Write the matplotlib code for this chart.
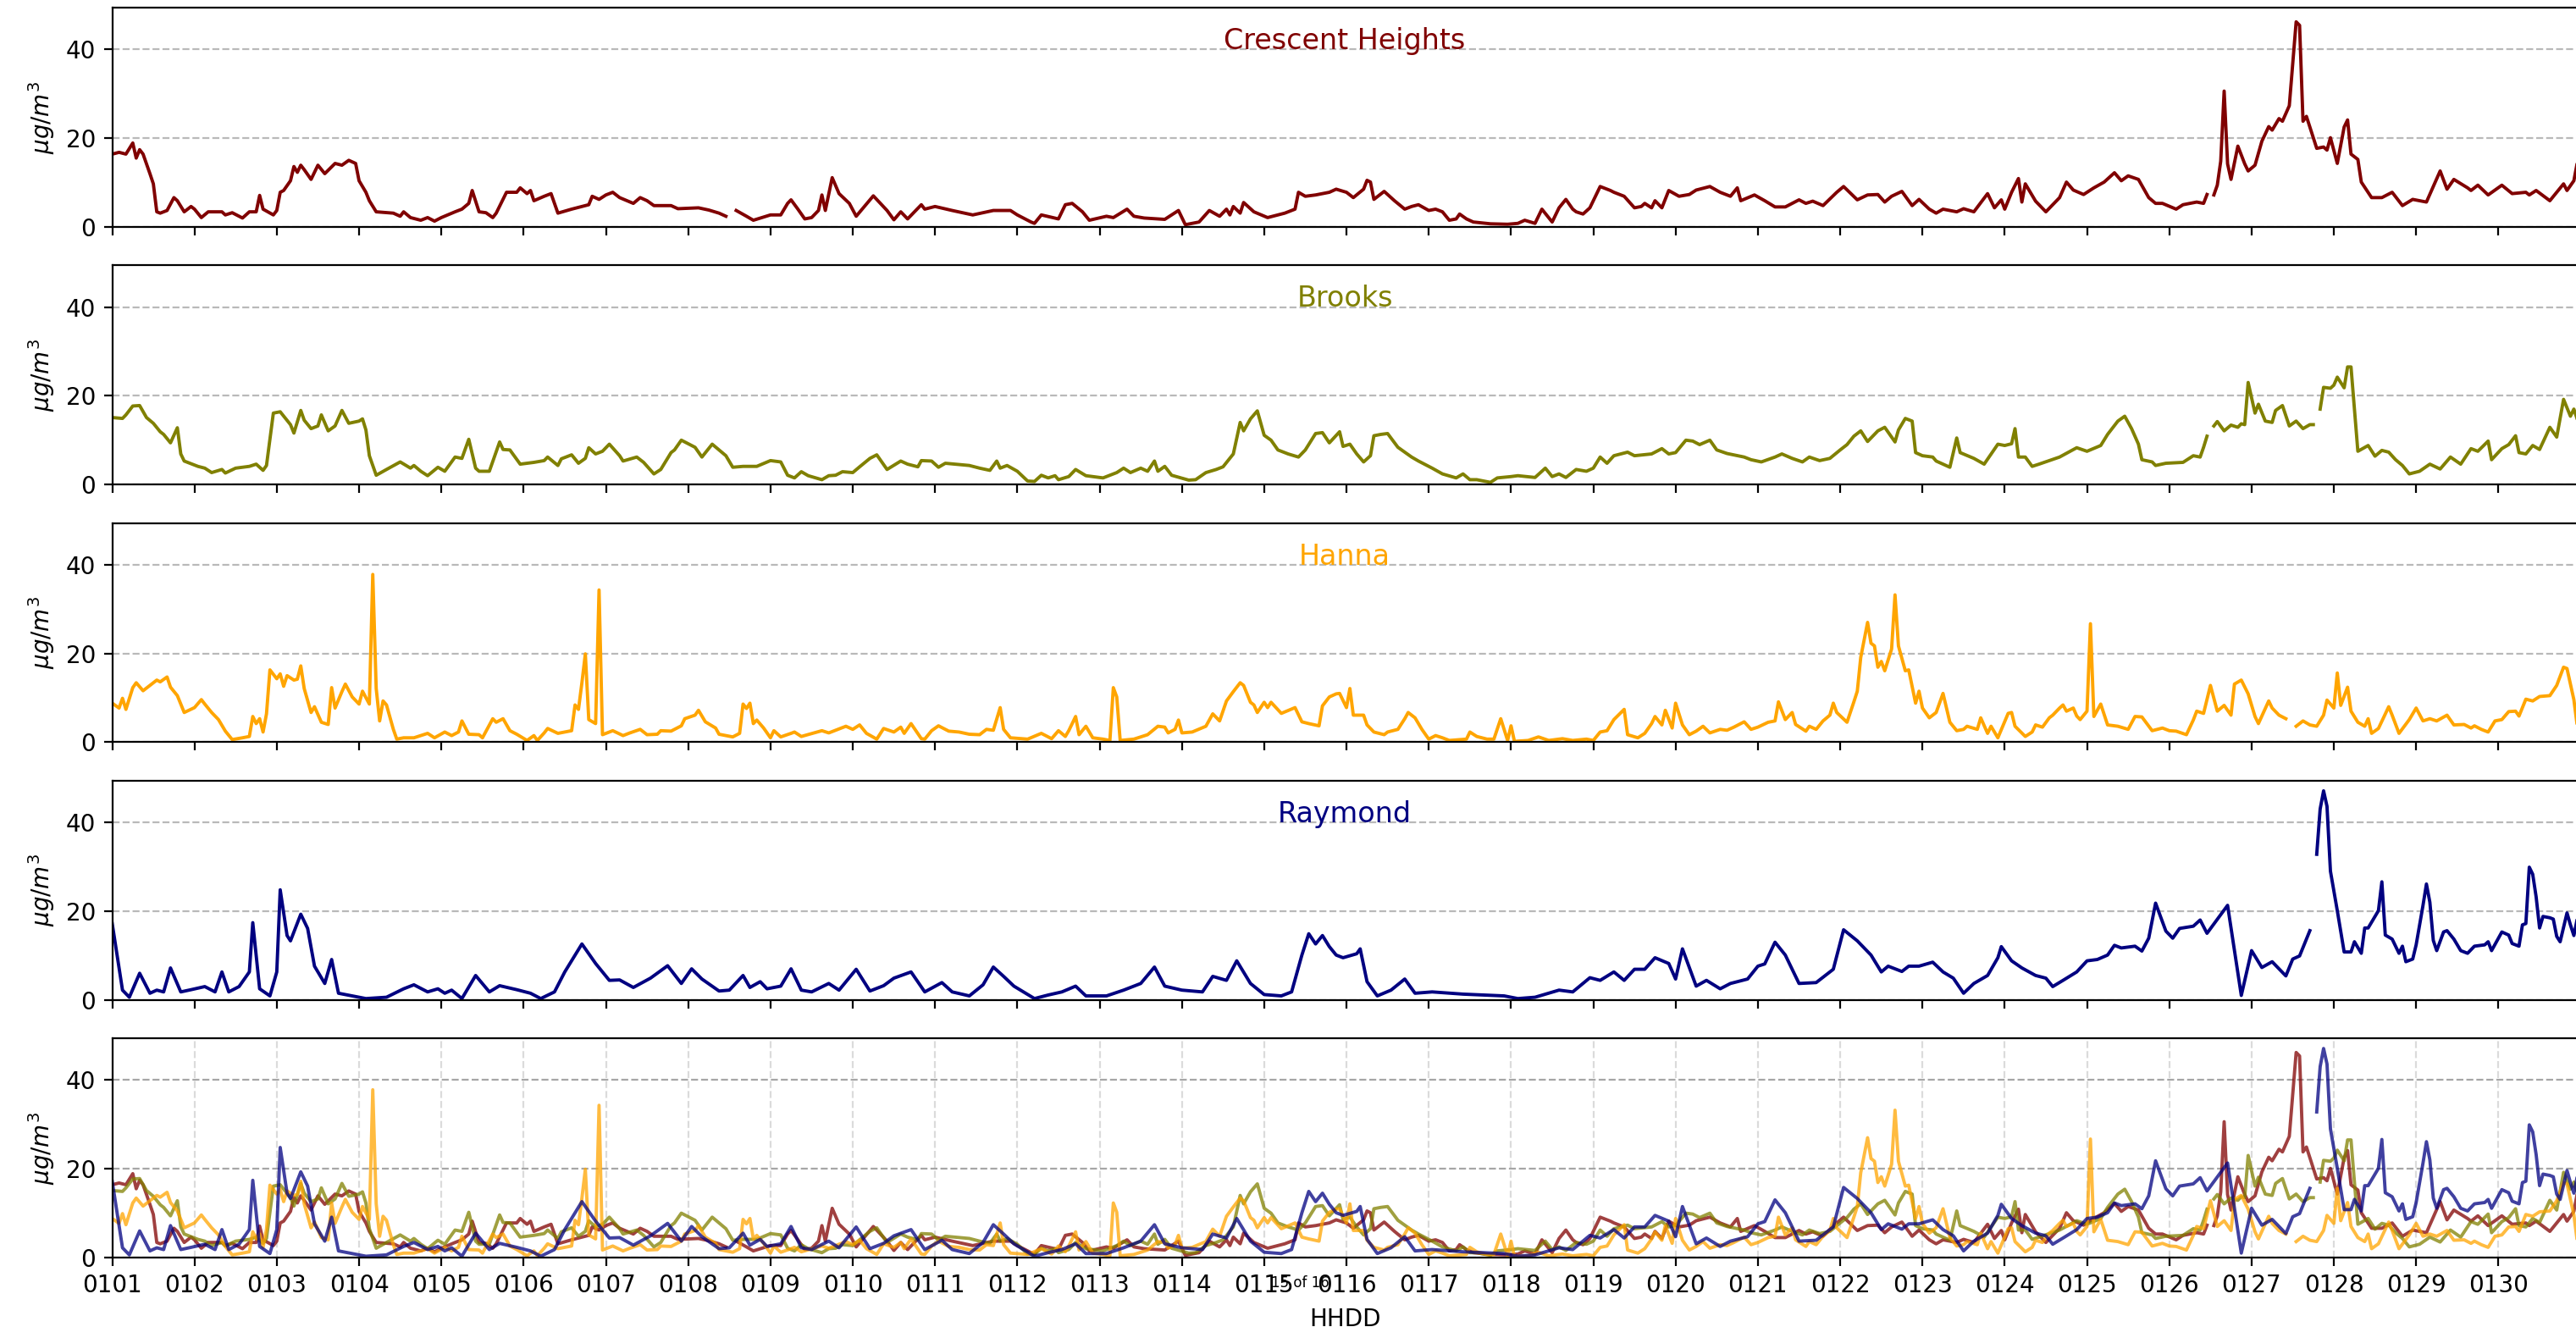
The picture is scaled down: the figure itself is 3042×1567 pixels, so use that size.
import numpy as np
import matplotlib
matplotlib.use("Agg")
import matplotlib.pyplot as plt

nan = np.nan

# (hour since 0101 00h, PM2.5); nan marks a data gap
crescent = [
    (0, 16.4), (2, 16.8), (4, 16.4), (6, 18.9), (7, 15.5), (8, 17.4), (9, 16.4), (11, 12.0), (12, 9.7),
    (13, 3.4), (14, 3.1), (16, 3.7), (18, 6.6), (19, 5.9), (21, 3.4), (23, 4.6), (24, 4.0), (26, 2.1),
    (28, 3.4), (32, 3.4), (33, 2.7), (35, 3.2), (38, 2.0), (40, 3.4), (42, 3.4), (43, 7.1), (44, 4.0),
    (47, 2.7), (48, 3.7), (49, 7.8), (50, 8.2), (52, 10.4), (53, 13.6), (54, 12.3), (55, 13.9), (56, 12.9),
    (58, 10.7), (60, 13.9), (62, 12.0), (65, 14.3), (67, 13.9), (69, 15.0), (71, 14.3), (72, 10.4), (74, 7.8),
    (75, 5.9), (77, 3.4), (82, 3.1), (84, 2.4), (85, 3.4), (87, 2.1), (90, 1.5), (92, 2.1), (94, 1.3),
    (96, 2.1), (100, 3.4), (102, 4.0), (104, 5.3), (105, 8.2), (107, 3.4), (109, 3.2), (111, 2.1), (112, 3.1),
    (115, 7.8), (118, 7.8), (119, 8.8), (121, 7.5), (122, 8.2), (123, 5.9), (126, 6.9), (128, 7.5), (130, 3.1),
    (134, 4.0), (139, 5.0), (140, 6.9), (142, 6.2), (144, 7.2), (146, 7.8), (148, 6.6), (152, 5.3), (154, 6.6),
    (156, 5.9), (158, 4.8), (163, 4.8), (165, 4.1), (171, 4.3), (174, 3.8), (177, 3.1), (179, 2.4), (181, nan),
    (182, 3.7), (185, 2.4), (187, 1.5), (192, 2.7), (195, 2.7), (197, 5.3), (198, 6.1), (200, 4.0), (202, 1.8),
    (204, 2.1), (206, 3.7), (207, 7.2), (208, 3.7), (210, 11.1), (212, 7.5), (215, 5.3), (217, 2.4), (222, 7.0),
    (226, 3.7), (228, 1.6), (230, 3.4), (232, 1.8), (236, 5.0), (237, 4.0), (240, 4.6), (245, 3.7), (251, 2.7),
    (257, 3.7), (262, 3.7), (264, 2.7), (268, 1.1), (269, 0.8), (271, 2.7), (276, 1.8), (278, 5.0), (280, 5.3),
    (283, 3.4), (285, 1.5), (290, 2.4), (292, 2.1), (296, 4.0), (298, 2.4), (301, 2.0), (307, 1.7), (311, 3.7),
    (313, 0.5), (317, 1.1), (320, 3.7), (323, 2.4), (325, 4.0), (326, 2.7), (327, 4.6), (329, 3.1), (330, 5.5),
    (333, 3.4), (337, 2.1), (342, 3.1), (345, 4.0), (346, 7.8), (348, 6.9), (351, 7.2), (355, 7.8), (357, 8.5),
    (360, 7.8), (362, 6.6), (365, 8.5), (366, 10.5), (367, 10.1), (368, 6.2), (371, 8.0), (374, 5.9), (377, 4.0),
    (379, 4.6), (381, 5.0), (384, 3.7), (386, 4.0), (388, 3.4), (390, 1.5), (392, 1.8), (393, 2.9), (395, 1.8),
    (397, 1.1), (402, 0.7), (407, 0.6), (410, 0.8), (412, 1.5), (415, 0.8), (417, 4.0), (420, 1.1), (422, 4.3),
    (424, 6.2), (426, 4.0), (427, 3.4), (429, 2.9), (431, 4.3), (434, 9.1), (437, 8.2), (438, 7.8), (441, 6.9),
    (444, 4.3), (446, 4.6), (447, 5.3), (449, 4.3), (450, 5.9), (452, 4.3), (454, 8.2), (457, 6.9), (460, 7.3),
    (462, 8.3), (466, 9.1), (469, 7.8), (472, 6.9), (474, 8.8), (475, 5.9), (479, 7.2), (482, 5.9), (485, 4.5),
    (488, 4.5), (492, 6.1), (494, 5.3), (496, 5.8), (499, 4.8), (503, 7.8), (505, 9.1), (509, 6.1), (512, 7.2),
    (515, 7.3), (517, 5.6), (519, 6.9), (522, 8.0), (525, 4.8), (527, 6.2), (530, 4.0), (532, 3.1), (534, 4.0),
    (538, 3.4), (540, 4.1), (543, 3.4), (547, 7.5), (549, 4.3), (551, 6.1), (552, 4.0), (554, 7.8), (556, 10.9),
    (557, 5.6), (558, 9.7), (561, 5.8), (564, 3.4), (568, 6.6), (570, 10.1), (572, 8.3), (575, 7.3), (578, 8.8),
    (581, 10.1), (584, 12.2), (586, 10.4), (588, 11.5), (591, 10.7), (594, 6.6), (596, 5.3), (598, 5.3),
    (602, 4.0), (604, 5.0), (608, 5.6), (610, 5.3), (611, 7.3), (612, nan), (613, 7.2), (614, 9.4), (615, 14.8),
    (616, 30.6), (617, 14.2), (618, 10.7), (620, 18.2), (622, 14.2), (623, 12.6), (625, 13.9), (627, 19.3),
    (629, 22.6), (630, 21.8), (632, 24.4), (633, 23.8), (635, 27.3), (637, 46.2), (638, 45.4), (639, 23.8),
    (640, 24.9), (643, 17.7), (645, 18.0), (646, 17.3), (647, 20.1), (649, 14.3), (651, 22.5), (652, 24.1),
    (653, 16.4), (655, 15.2), (656, 10.1), (659, 6.6), (662, 6.6), (665, 7.8), (668, 4.8), (671, 6.2),
    (675, 5.6), (679, 12.6), (681, 8.5), (683, 10.7), (687, 8.8), (688, 8.2), (690, 9.4), (693, 7.2), (697, 9.4),
    (700, 7.5), (704, 7.8), (705, 7.2), (707, 8.2), (711, 5.9), (715, 9.7), (716, 8.2), (718, 10.4), (719, 14.5),
]

brooks = [
    (0, 15.1), (3, 14.9), (4, 15.7), (6, 17.7), (8, 17.8), (10, 15.1), (12, 13.8), (14, 11.9), (15, 11.3),
    (17, 9.4), (19, 12.8), (20, 6.9), (21, 5.3), (25, 4.1), (27, 3.7), (29, 2.7), (32, 3.4), (33, 2.6),
    (36, 3.7), (40, 4.1), (42, 4.6), (44, 3.2), (45, 4.3), (47, 16.1), (49, 16.4), (52, 13.5), (53, 11.6),
    (55, 16.7), (56, 14.5), (58, 12.6), (60, 13.2), (61, 15.7), (63, 12.1), (65, 13.2), (67, 16.7), (69, 13.8),
    (72, 14.3), (73, 14.8), (74, 12.3), (75, 6.5), (77, 2.1), (80, 3.4), (84, 5.1), (87, 3.7), (88, 4.3),
    (90, 3.0), (92, 2.0), (95, 3.9), (97, 3.0), (100, 6.2), (102, 5.9), (104, 10.2), (106, 3.7), (107, 3.0),
    (110, 3.0), (113, 9.6), (114, 7.9), (116, 7.8), (119, 4.6), (123, 5.0), (126, 5.4), (127, 6.2), (130, 4.3),
    (131, 5.8), (134, 6.7), (136, 4.8), (138, 5.9), (139, 8.3), (141, 6.9), (143, 7.5), (145, 9.1), (148, 6.5),
    (149, 5.3), (153, 6.2), (155, 5.0), (158, 2.4), (160, 3.4), (163, 7.2), (164, 7.8), (166, 10.0), (170, 8.4),
    (172, 6.2), (175, 9.1), (179, 6.5), (181, 3.9), (184, 4.1), (188, 4.1), (192, 5.4), (195, 5.1), (197, 2.1),
    (199, 1.5), (201, 2.9), (203, 2.0), (207, 1.1), (209, 2.0), (211, 2.1), (213, 2.9), (216, 2.7), (218, 4.0),
    (221, 5.9), (223, 6.7), (226, 3.4), (230, 5.3), (232, 4.6), (235, 4.0), (236, 5.4), (239, 5.3), (241, 3.9),
    (243, 4.8), (250, 4.3), (253, 3.7), (256, 3.2), (258, 5.3), (259, 3.7), (261, 4.3), (264, 3.0), (267, 0.8),
    (269, 0.7), (271, 2.1), (273, 1.5), (275, 2.0), (276, 1.1), (279, 1.8), (281, 3.4), (284, 2.0), (289, 1.5),
    (293, 2.7), (295, 3.7), (297, 2.7), (300, 3.7), (302, 3.0), (304, 5.3), (305, 3.0), (307, 4.1), (309, 2.1),
    (314, 1.0), (316, 1.1), (319, 2.7), (322, 3.4), (324, 4.0), (327, 6.9), (329, 14.0), (330, 12.1),
    (332, 14.8), (334, 16.6), (336, 11.1), (338, 10.0), (340, 7.8), (343, 6.9), (346, 6.2), (348, 7.8),
    (351, 11.5), (353, 11.7), (355, 9.4), (358, 11.9), (359, 8.6), (361, 9.1), (363, 6.9), (365, 5.1),
    (367, 6.5), (368, 11.0), (370, 11.3), (372, 11.5), (375, 8.4), (379, 6.2), (381, 5.3), (385, 3.7),
    (388, 2.4), (392, 1.5), (394, 2.4), (396, 1.1), (398, 1.1), (402, 0.5), (404, 1.5), (408, 1.8), (410, 2.0),
    (415, 1.6), (418, 3.7), (420, 1.8), (422, 2.4), (424, 1.6), (427, 3.4), (430, 3.0), (432, 3.7), (434, 6.2),
    (436, 4.8), (438, 6.5), (442, 7.3), (444, 6.5), (449, 6.9), (452, 8.1), (454, 6.9), (456, 7.2), (459, 10.0),
    (461, 9.8), (463, 9.0), (466, 10.0), (468, 7.8), (471, 7.0), (476, 6.2), (478, 5.6), (481, 5.1), (485, 6.2),
    (487, 6.9), (490, 5.9), (493, 5.1), (495, 6.2), (498, 5.4), (501, 5.9), (504, 7.8), (506, 9.0), (508, 10.9),
    (510, 12.1), (512, 9.7), (515, 12.1), (517, 12.9), (520, 9.6), (521, 12.3), (523, 14.9), (525, 14.3),
    (526, 7.2), (528, 6.5), (531, 6.2), (532, 5.3), (536, 3.9), (538, 10.5), (539, 7.2), (543, 5.9), (546, 4.6),
    (550, 9.1), (552, 8.8), (554, 9.2), (555, 12.6), (556, 6.2), (558, 6.2), (560, 4.1), (562, 4.6), (568, 6.2),
    (573, 8.3), (576, 7.5), (580, 8.8), (582, 11.3), (585, 14.3), (587, 15.4), (589, 12.6), (591, 9.1),
    (592, 5.6), (595, 5.1), (596, 4.3), (599, 4.8), (604, 5.0), (607, 6.5), (609, 6.2), (610, 8.4), (611, 10.9),
    (612, nan), (613, 13.2), (614, 14.2), (616, 12.1), (618, 13.4), (620, 12.9), (621, 13.7), (622, 13.5),
    (623, 23.0), (625, 16.1), (626, 18.1), (628, 14.3), (630, 14.0), (631, 16.7), (633, 17.8), (635, 13.2),
    (637, 14.3), (639, 12.6), (641, 13.5), (642, 13.5), (643, nan), (644, 17.0), (645, 21.9), (647, 21.7),
    (648, 22.4), (649, 24.2), (651, 21.8), (652, 26.5), (653, 26.5), (655, 7.5), (658, 8.8), (660, 6.4),
    (662, 7.7), (664, 7.3), (666, 5.6), (668, 4.3), (670, 2.4), (673, 3.0), (676, 4.6), (679, 3.5), (682, 6.2),
    (685, 4.6), (688, 8.1), (690, 7.5), (693, 9.8), (694, 5.6), (697, 8.1), (699, 9.0), (701, 11.0), (702, 7.2),
    (704, 6.9), (706, 8.8), (708, 7.9), (711, 12.9), (713, 10.7), (715, 19.2), (717, 15.4), (718, 17.0),
    (719, 14.7),
]

hanna = [
    (0, 8.8), (2, 7.7), (3, 9.9), (4, 7.4), (6, 12.3), (7, 13.4), (9, 11.6), (11, 12.8), (13, 14.0), (14, 13.6),
    (16, 14.7), (17, 12.4), (19, 10.5), (21, 6.7), (24, 7.8), (26, 9.6), (27, 8.6), (29, 6.7), (31, 5.1),
    (33, 2.5), (35, 0.6), (38, 1.0), (40, 1.3), (41, 5.8), (42, 4.2), (43, 5.3), (44, 2.3), (45, 6.4),
    (46, 16.3), (48, 14.3), (49, 15.4), (50, 12.6), (51, 15.0), (53, 14.0), (54, 14.2), (55, 17.2), (56, 12.1),
    (58, 6.7), (59, 8.0), (61, 4.5), (63, 4.0), (64, 12.3), (65, 7.7), (67, 11.4), (68, 13.1), (70, 10.2),
    (72, 8.6), (73, 11.5), (75, 8.6), (76, 37.8), (77, 12.1), (78, 4.8), (79, 9.3), (80, 8.4), (82, 2.9),
    (83, 0.7), (85, 1.0), (88, 1.0), (92, 2.0), (94, 1.0), (97, 2.3), (99, 1.5), (101, 2.3), (102, 4.8),
    (104, 1.8), (107, 1.7), (108, 1.0), (111, 5.3), (112, 4.5), (114, 5.3), (116, 2.6), (118, 1.8), (121, 0.4),
    (123, 1.5), (124, 0.4), (126, 2.1), (127, 3.1), (130, 2.0), (134, 2.6), (135, 8.4), (136, 7.4), (137, 13.4),
    (138, 19.9), (139, 5.1), (141, 4.2), (142, 34.3), (143, 1.7), (146, 2.6), (149, 1.5), (151, 2.1),
    (154, 2.9), (156, 1.7), (159, 1.8), (160, 2.6), (163, 2.5), (166, 3.7), (167, 5.3), (170, 6.1), (171, 7.2),
    (173, 4.6), (176, 3.2), (177, 1.8), (181, 1.2), (183, 2.0), (184, 8.6), (185, 7.6), (186, 8.8), (187, 4.2),
    (188, 5.0), (190, 3.2), (192, 1.0), (193, 2.6), (195, 1.2), (198, 2.0), (199, 2.3), (201, 1.3), (207, 2.6),
    (209, 2.1), (214, 3.6), (216, 2.9), (218, 3.9), (220, 2.0), (223, 0.7), (225, 3.1), (228, 2.3), (230, 3.4),
    (231, 2.0), (233, 4.2), (236, 0.8), (237, 0.7), (239, 2.6), (241, 3.7), (244, 2.5), (247, 2.3), (250, 1.8),
    (253, 1.7), (255, 2.9), (257, 2.7), (259, 7.8), (260, 2.9), (262, 1.0), (267, 0.7), (271, 2.0), (274, 0.8),
    (276, 2.6), (278, 1.3), (279, 2.6), (281, 5.8), (282, 1.7), (284, 3.6), (286, 1.0), (289, 0.7), (291, 0.4),
    (292, 12.3), (293, 10.2), (294, 0.4), (298, 0.7), (302, 1.7), (305, 3.6), (307, 3.4), (308, 2.1),
    (310, 2.9), (311, 5.0), (312, 2.1), (315, 2.3), (319, 3.6), (321, 6.4), (323, 4.8), (325, 9.3), (327, 11.4),
    (329, 13.4), (330, 12.8), (332, 9.0), (333, 8.4), (334, 6.7), (336, 9.0), (337, 7.8), (338, 9.0),
    (341, 6.5), (345, 7.8), (347, 4.6), (349, 4.2), (352, 3.7), (353, 8.2), (355, 10.2), (357, 10.9),
    (358, 11.0), (360, 7.8), (361, 12.1), (362, 6.1), (365, 6.1), (366, 3.9), (368, 2.3), (371, 1.7),
    (372, 2.3), (375, 2.9), (377, 5.3), (378, 6.7), (380, 5.5), (382, 2.9), (384, 0.7), (386, 1.5), (388, 1.0),
    (390, 0.4), (395, 0.7), (396, 2.3), (398, 1.3), (401, 0.7), (403, 0.7), (405, 5.3), (407, 0.4), (408, 3.7),
    (409, 0.2), (413, 0.4), (416, 1.2), (419, 0.4), (423, 0.8), (426, 0.4), (430, 0.7), (432, 0.4), (434, 2.3),
    (436, 2.6), (438, 5.1), (441, 7.4), (442, 1.7), (445, 1.0), (447, 2.0), (449, 4.2), (450, 5.8), (452, 3.9),
    (453, 7.2), (455, 3.2), (456, 8.8), (458, 3.9), (460, 1.7), (462, 2.5), (464, 3.6), (466, 2.1), (469, 2.9),
    (471, 2.7), (473, 3.4), (476, 4.6), (478, 2.9), (480, 3.4), (483, 4.5), (485, 4.8), (486, 9.1), (488, 5.1),
    (490, 6.7), (491, 4.0), (494, 2.5), (495, 3.6), (497, 2.9), (499, 4.8), (501, 6.1), (502, 8.8), (503, 6.7),
    (506, 4.5), (508, 9.1), (509, 11.5), (510, 19.1), (512, 27.0), (513, 22.3), (514, 21.7), (515, 16.9),
    (516, 18.2), (517, 16.1), (519, 21.0), (520, 33.2), (521, 21.7), (523, 16.1), (524, 16.3), (526, 8.8),
    (527, 11.5), (528, 7.7), (530, 5.5), (532, 6.7), (534, 11.0), (536, 4.5), (538, 2.6), (540, 2.9),
    (541, 3.6), (544, 2.9), (545, 5.5), (547, 2.0), (548, 3.6), (550, 1.0), (553, 6.5), (554, 6.7), (555, 3.6),
    (558, 1.3), (560, 2.3), (561, 3.9), (563, 3.4), (565, 5.5), (566, 6.1), (568, 7.7), (569, 8.4), (570, 7.0),
    (572, 7.7), (573, 5.9), (574, 5.1), (576, 7.0), (577, 26.7), (578, 5.8), (580, 8.6), (582, 3.9), (585, 3.6),
    (588, 2.9), (590, 5.8), (592, 5.7), (595, 2.6), (598, 3.2), (600, 2.6), (602, 2.5), (605, 1.7), (607, 5.0),
    (608, 7.0), (610, 6.5), (612, 12.8), (614, 7.0), (616, 8.3), (618, 6.1), (619, 13.1), (621, 14.0),
    (623, 10.9), (625, 5.8), (626, 4.2), (629, 9.3), (630, 7.7), (632, 6.1), (634, 5.3), (635, nan), (637, 3.6),
    (639, 4.8), (641, 3.9), (643, 3.6), (645, 6.1), (646, 9.5), (648, 7.7), (649, 15.6), (650, 8.3), (652, 12.4),
    (653, 7.0), (655, 4.5), (657, 3.6), (658, 5.3), (659, 2.0), (661, 3.1), (664, 8.0), (665, 6.1), (667, 2.0),
    (670, 5.1), (672, 7.7), (674, 4.8), (676, 5.3), (678, 4.8), (681, 6.1), (683, 3.9), (686, 4.0), (688, 3.2),
    (689, 3.7), (691, 2.9), (693, 2.3), (695, 4.8), (697, 5.1), (699, 6.9), (701, 7.0), (702, 5.9), (704, 9.7),
    (706, 9.3), (708, 10.3), (711, 10.5), (713, 12.8), (715, 16.9), (716, 16.6), (718, 9.6), (719, 3.6),
]

raymond = [
    (0, 17.2), (3, 2.2), (5, 0.6), (8, 6.0), (11, 1.5), (13, 2.2), (15, 1.8), (17, 7.2), (20, 1.8), (23, 2.3),
    (27, 3.0), (30, 1.8), (32, 6.3), (34, 1.8), (37, 3.0), (40, 6.3), (41, 17.4), (43, 2.5), (46, 0.9),
    (48, 6.3), (49, 24.8), (51, 14.5), (52, 13.3), (55, 19.3), (57, 16.1), (59, 7.6), (62, 3.7), (64, 9.1),
    (66, 1.5), (70, 0.9), (74, 0.3), (80, 0.6), (85, 2.5), (88, 3.4), (92, 1.8), (95, 2.5), (97, 1.5), (99, 2.2),
    (102, 0.3), (106, 5.5), (110, 1.8), (113, 3.2), (118, 2.3), (122, 1.5), (125, 0.3), (129, 1.8), (132, 6.3),
    (137, 12.6), (141, 8.2), (145, 4.4), (148, 4.5), (152, 2.8), (157, 4.9), (162, 7.7), (166, 3.7), (169, 7.0),
    (172, 4.7), (177, 2.0), (180, 2.2), (184, 5.5), (186, 2.8), (189, 4.1), (191, 2.5), (195, 3.1), (198, 7.0),
    (201, 2.2), (204, 1.8), (209, 3.7), (212, 2.2), (217, 6.9), (221, 2.0), (225, 3.2), (228, 4.9), (233, 6.3),
    (237, 1.8), (242, 3.9), (245, 1.8), (250, 0.9), (254, 3.4), (257, 7.4), (260, 5.3), (263, 3.1), (269, 0.3),
    (273, 1.1), (277, 1.8), (281, 3.1), (284, 0.9), (290, 0.9), (295, 2.2), (300, 3.7), (304, 7.4), (307, 3.1),
    (312, 2.2), (318, 1.8), (321, 5.3), (325, 4.4), (328, 8.8), (332, 3.7), (336, 1.2), (341, 0.9), (344, 1.8),
    (347, 10.1), (349, 14.9), (351, 12.6), (353, 14.5), (355, 12.0), (357, 10.1), (359, 9.5), (363, 10.4),
    (364, 11.5), (366, 4.1), (369, 0.9), (373, 2.2), (377, 4.7), (380, 1.5), (385, 1.8), (394, 1.3), (406, 0.9),
    (410, 0.3), (415, 0.6), (422, 2.2), (426, 1.8), (431, 5.0), (434, 4.4), (438, 6.3), (441, 4.4), (444, 6.9),
    (447, 6.9), (450, 9.5), (454, 8.2), (456, 4.7), (458, 11.5), (462, 3.1), (465, 4.4), (469, 2.5), (472, 3.7),
    (477, 4.7), (480, 7.6), (482, 8.1), (485, 13.0), (488, 10.1), (492, 3.7), (497, 3.9), (502, 6.9),
    (505, 15.8), (509, 13.3), (513, 10.1), (516, 6.3), (518, 7.6), (522, 6.4), (524, 7.6), (527, 7.6),
    (531, 8.5), (534, 6.3), (537, 4.9), (540, 1.5), (543, 3.7), (547, 5.5), (550, 9.5), (551, 12.0), (554, 8.8),
    (557, 7.2), (561, 5.5), (564, 4.9), (566, 3.0), (569, 4.4), (573, 6.3), (576, 8.8), (579, 9.1), (582, 10.1),
    (584, 12.3), (586, 11.7), (590, 12.1), (592, 11.0), (594, 13.9), (596, 21.8), (599, 15.5), (601, 13.9),
    (603, 16.1), (607, 16.6), (609, 18.0), (611, 15.0), (617, 21.3), (621, 1.0), (624, 11.1), (627, 7.3),
    (630, 8.6), (634, 5.4), (636, 9.2), (638, 9.9), (641, 15.6), (642, nan), (643, 32.8), (644, 43.0),
    (645, 47.1), (646, 43.6), (647, 29.0), (649, 20.1), (651, 10.8), (653, 10.8), (654, 13.1), (656, 10.5),
    (657, 16.2), (658, 16.2), (661, 20.1), (662, 26.6), (663, 14.6), (665, 13.7), (667, 10.5), (668, 12.1),
    (669, 8.6), (671, 9.2), (672, 12.4), (674, 21.3), (675, 26.1), (676, 22.0), (677, 13.4), (678, 11.1),
    (680, 15.3), (681, 15.6), (683, 13.7), (685, 11.1), (687, 10.5), (689, 12.1), (692, 12.4), (693, 13.1),
    (694, 11.1), (697, 15.3), (699, 14.6), (700, 12.7), (702, 12.1), (703, 16.9), (704, 17.2), (705, 29.9),
    (706, 28.3), (707, 23.2), (708, 16.2), (709, 18.8), (711, 18.5), (712, 18.2), (713, 14.3), (714, 13.1),
    (716, 19.6), (717, 16.9), (718, 14.5), (719, 18.3),
]

stations = ["Crescent Heights", "Brooks", "Hanna", "Raymond"]
colors = ["maroon", "olive", "orange", "navy"]
series = [crescent, brooks, hanna, raymond]
day_labels = [f"01{d:02d}" for d in range(1, 31)]


def main():
    fig, axes = plt.subplots(5, 1, sharex=True, sharey=True,
                             figsize=(15.21, 7.835), dpi=200)
    fig.subplots_adjust(left=0.04356, right=1.0005, top=0.99426,
                        bottom=0.05233, hspace=0.175)

    for ax, name, color, data in zip(axes[:4], stations, colors, series):
        h, v = np.array(data, dtype=float).T
        ax.plot(h, v, color=color, linewidth=1.4)
        ax.text(0.5, 0.81, name, transform=ax.transAxes, ha="center",
                va="baseline", color=color, fontsize=12)
        ax.grid(axis="y", linestyle="--", color="gray", alpha=0.55)

    bottom = axes[4]
    for color, data in zip(colors, series):
        h, v = np.array(data, dtype=float).T
        bottom.plot(h, v, color=color, linewidth=1.4, alpha=0.75)
    bottom.yaxis.grid(True, linestyle="--", color="gray", alpha=0.7)
    bottom.xaxis.grid(True, linestyle="--", color="lightgray", alpha=0.8)

    for ax in axes:
        ax.set_ylabel(r"$\mu g/m^3$", fontsize=10)
        ax.set_yticks([0, 20, 40])

    bottom.set_xlim(0, 719)
    bottom.set_ylim(0, 49.4)
    bottom.set_xticks(np.arange(0, 720, 24))
    bottom.set_xticklabels(day_labels, fontsize=10)
    bottom.set_xlabel("HHDD", fontsize=10)

    # small page marker that sits over the 0115/0116 labels in the original
    fig.text(1535 / 3042, 1 - 1515 / 1567, "15 of 16", fontsize=6,
             ha="center", va="center")

    fig.savefig("out.png", dpi=200)


if __name__ == "__main__":
    main()
